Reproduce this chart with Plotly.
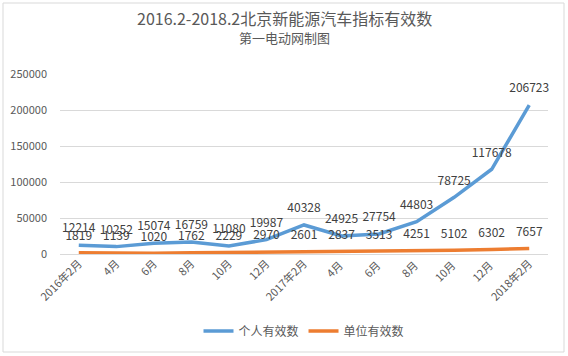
import plotly.graph_objects as go

categories = ["2016年2月", "4月", "6月", "8月", "10月", "12月", "2017年2月",
              "4月 ", "6月 ", "8月 ", "10月 ", "12月 ", "2018年2月"]
personal = [12214, 10252, 15074, 16759, 11080, 19987, 40328, 24925, 27754, 44803, 78725, 117678, 206723]
unit = [1819, 1139, 1020, 1762, 2229, 2970, 2601, 2837, 3513, 4251, 5102, 6302, 7657]
y_ticks = [0, 50000, 100000, 150000, 200000, 250000]

FONT = "Noto Sans CJK SC, Noto Sans, sans-serif"
GREY = "#595959"

fig = go.Figure()
fig.add_trace(go.Scatter(
    x=categories, y=personal, name="个人有效数", mode="lines+markers+text",
    line=dict(color="#5B9BD5", width=3.5),
    marker=dict(size=14, color="rgba(0,0,0,0)"),
    text=[str(v) for v in personal], textposition="top center",
    textfont=dict(family=FONT, size=12, color="#404040"),
    cliponaxis=False,
))
fig.add_trace(go.Scatter(
    x=categories, y=unit, name="单位有效数", mode="lines+markers+text",
    line=dict(color="#ED7D31", width=3.5),
    marker=dict(size=14, color="rgba(0,0,0,0)"),
    text=[str(v) for v in unit], textposition="top center",
    textfont=dict(family=FONT, size=12, color="#404040"),
    cliponaxis=False,
))

L, R, T, B = 60, 20, 74, 102
W, H = 568, 356
pw = W - L - R
ph = H - T - B

def px(x):
    return (x - L) / pw

def py(y):
    return (H - B - y) / ph

fig.update_layout(
    width=W, height=H,
    margin=dict(l=L, r=R, t=T, b=B, autoexpand=False),
    paper_bgcolor="white", plot_bgcolor="white",
    font=dict(family=FONT, color=GREY, size=11),
    showlegend=True,
    legend=dict(orientation="h", x=0.5, xanchor="center", y=py(331), yanchor="middle",
                font=dict(family=FONT, size=12, color=GREY)),
    xaxis=dict(type="category", range=[-0.5, 12.5], tickangle=-45, showgrid=False,
               showline=False, ticks="", automargin=False,
               tickfont=dict(family=FONT, size=11, color=GREY)),
    yaxis=dict(range=[0, 250000], tickvals=y_ticks, tickformat="d", showgrid=True,
               gridcolor="#D9D9D9", gridwidth=1, zeroline=True, zerolinecolor="#D9D9D9",
               zerolinewidth=1, showline=False, ticks="", ticklabelstandoff=12,
               automargin=False,
               tickfont=dict(family=FONT, size=11, color=GREY)),
    shapes=[dict(type="rect", xref="paper", yref="paper",
                 x0=px(3), x1=px(564), y0=py(352), y1=py(3),
                 line=dict(color="#D9D9D9", width=1), layer="below")],
    annotations=[
        dict(text="2016.2-2018.2北京新能源汽车指标有效数", xref="paper", yref="paper",
             x=px(284), y=py(18), xanchor="center", yanchor="middle", showarrow=False,
             font=dict(family=FONT, size=16, color=GREY)),
        dict(text="第一电动网制图", xref="paper", yref="paper",
             x=px(284), y=py(37), xanchor="center", yanchor="middle", showarrow=False,
             font=dict(family=FONT, size=13, color=GREY)),
    ],
)

fig.write_html("out.html",
               config={"displayModeBar": False},
               post_script="document.body.style.margin='0';document.body.style.overflow='hidden';")
